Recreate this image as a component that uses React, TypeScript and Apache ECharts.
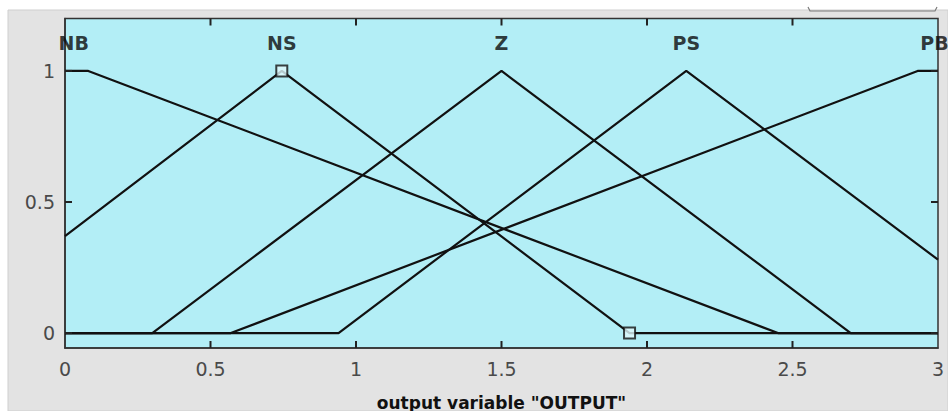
import React, { useEffect, useRef } from "react";
import * as echarts from "echarts";

// Membership functions of the output variable, as [x, degree] breakpoints
const nbPoints: [number, number][] = [[0, 1], [0.08, 1], [2.45, 0], [3, 0]];
const nsPoints: [number, number][] = [[0, 0.37], [0.745, 1], [1.94, 0], [3, 0]];
const zPoints: [number, number][] = [[0, 0], [0.3, 0], [1.5, 1], [2.7, 0], [3, 0]];
const psPoints: [number, number][] = [[0, 0], [0.94, 0], [2.135, 1], [3, 0.28]];
const pbPoints: [number, number][] = [[0, 0], [0.57, 0], [2.93, 1], [3, 1]];

// Names drawn above each function, at their centre
const mfNames = ["NB", "NS", "Z", "PS", "PB"];
const mfNameX = [0.03, 0.745, 1.5, 2.135, 2.988];
const mfNameY = 1.108;

// Selected-function handles (square markers)
const handlePoints: [number, number][] = [[0.745, 1], [1.94, 0]];

// Axis ranges and tick positions
const xMin = 0;
const xMax = 3;
const yMin = -0.057;
const yMax = 1.2;
const xTickValues = [0.5, 1, 1.5, 2, 2.5];
const yTickValues = [0, 0.5, 1];
const xLabel = 'output variable "OUTPUT"';

const LINE = "#111111";
const AXIS = "#333333";
const PLOT_BG = "#b3eef6";
const PANEL = "#e3e3e3";

export default function App() {
  const ref = useRef<HTMLDivElement>(null);

  useEffect(() => {
    document.body.style.margin = "0";
    if (!ref.current) return;
    const chart = echarts.init(ref.current, undefined, { renderer: "svg" });

    const lineSeries = (data: [number, number][]) => ({
      type: "line",
      data,
      symbol: "none",
      lineStyle: { color: LINE, width: 2.2 },
      z: 3,
    });

    const axisLineCommon = {
      show: true,
      onZero: false,
      lineStyle: { color: AXIS, width: 1.5 },
    };

    // Tick items: [x, y, side] with side 0 bottom, 1 top, 2 left, 3 right
    const tickItems: number[][] = [
      ...xTickValues.map((v) => [v, yMin, 0]),
      ...xTickValues.map((v) => [v, yMax, 1]),
      ...yTickValues.map((v) => [xMin, v, 2]),
      ...yTickValues.map((v) => [xMax, v, 3]),
    ];
    const TICK = 7;

    chart.setOption({
      animation: false,
      backgroundColor: "#ffffff",
      graphic: [
        {
          type: "rect",
          z: -10,
          shape: { x: 8, y: 10, width: 940, height: 401 },
          style: { fill: PANEL, stroke: "#cfcfcf", lineWidth: 1 },
        },
        {
          type: "polyline",
          z: -5,
          shape: { points: [[808, 7], [810, 11], [935, 11], [937, 7]] },
          style: { stroke: "#7a7a7a", lineWidth: 1.2, fill: "none" },
        },
      ],
      grid: {
        left: 65,
        right: 10,
        top: 18.5,
        bottom: 63,
        containLabel: false,
        outerBoundsMode: "none",
        show: true,
        backgroundColor: PLOT_BG,
        borderColor: AXIS,
        borderWidth: 1.5,
      },
      xAxis: {
        type: "value",
        min: xMin,
        max: xMax,
        interval: 0.5,
        position: "bottom",
        axisLine: axisLineCommon,
        axisTick: { show: false },
        splitLine: { show: false },
        axisLabel: {
          fontFamily: "DejaVu Sans",
          fontSize: 19,
          color: "#4a4a4a",
          margin: 11,
        },
        name: xLabel,
        nameLocation: "middle",
        nameGap: 46,
        nameTextStyle: {
          fontFamily: "DejaVu Sans",
          fontWeight: "bold",
          fontSize: 17,
          color: "#111111",
        },
      },
      yAxis: {
        type: "value",
        min: yMin,
        max: yMax,
        position: "left",
        axisLine: axisLineCommon,
        axisTick: { show: false },
        splitLine: { show: false },
        axisLabel: {
          customValues: yTickValues,
          fontFamily: "DejaVu Sans",
          fontSize: 19,
          color: "#4a4a4a",
          margin: 10,
        },
      },
      series: [
        lineSeries(nbPoints),
        lineSeries(nsPoints),
        lineSeries(zPoints),
        lineSeries(psPoints),
        lineSeries(pbPoints),
        {
          // inward tick marks on all four sides of the box
          type: "custom",
          data: tickItems,
          clip: false,
          silent: true,
          z: 8,
          renderItem: (_params: any, api: any) => {
            const p = api.coord([api.value(0), api.value(1)]);
            const side = api.value(2);
            const dx = side === 2 ? TICK : side === 3 ? -TICK : 0;
            const dy = side === 0 ? -TICK : side === 1 ? TICK : 0;
            return {
              type: "line",
              shape: { x1: p[0], y1: p[1], x2: p[0] + dx, y2: p[1] + dy },
              style: { stroke: "#222222", lineWidth: 2 },
            };
          },
        },
        {
          type: "scatter",
          data: handlePoints,
          symbol: "rect",
          symbolSize: 11,
          itemStyle: { color: "#dff7fb", borderColor: LINE, borderWidth: 2 },
          z: 5,
        },
        {
          type: "scatter",
          data: mfNames.map((n, i) => ({ name: n, value: [mfNameX[i], mfNameY] })),
          symbolSize: 0,
          z: 6,
          label: {
            show: true,
            position: "inside",
            formatter: (p: any) => p.name,
            fontFamily: "DejaVu Sans",
            fontWeight: "bold",
            fontSize: 19,
            color: "#0a0a0a",
          },
        },
      ],
    });

    return () => chart.dispose();
  }, []);

  return <div ref={ref} style={{ width: 948, height: 411 }} />;
}
